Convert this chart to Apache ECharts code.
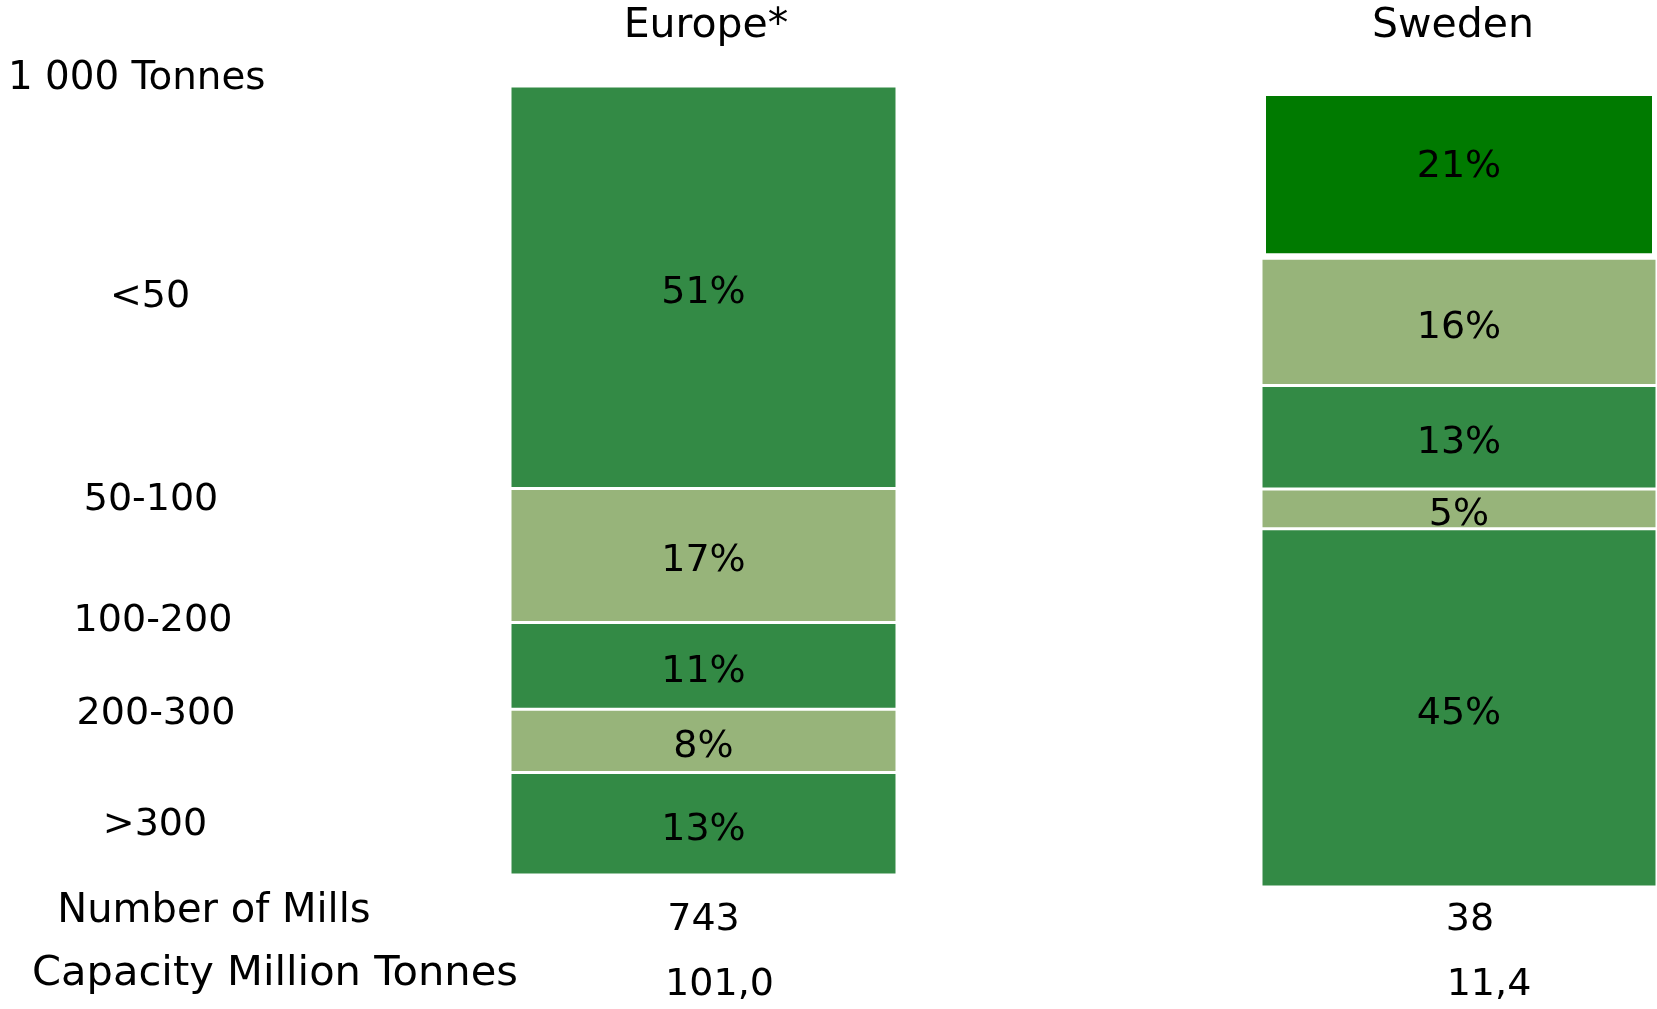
<!DOCTYPE html>
<html><head><meta charset="utf-8">
<script src="https://cdn.jsdelivr.net/npm/echarts@6.0.0/dist/echarts.min.js"></script>
<style>html,body{margin:0;padding:0;background:#fff}#c{width:1657px;height:1009px}</style>
</head><body><div id="c"></div>
<script>
// ---- data ----
const regions = ['Europe*', 'Sweden'];
const sizeClasses = ['<50', '50-100', '100-200', '200-300', '>300'];
const europeShares = [51, 17, 11, 8, 13];
const swedenShares = [21, 16, 13, 5, 45];
const numberOfMills = ['743', '38'];
const capacityMt = ['101,0', '11,4'];
const unitLabel = '1 000 Tonnes';
const rowLabels = ['Number of Mills', 'Capacity Million Tonnes'];

// ---- style ----
const FONT = '"DejaVu Sans", sans-serif';
const DARK = '#338A45', LIGHT = '#97B47A', BRIGHT = '#007A00';
const classColors = [
  [DARK, LIGHT, DARK, LIGHT, DARK],
  [BRIGHT, LIGHT, DARK, LIGHT, DARK]
];
const sharesByRegion = [europeShares, swedenShares];

const grids = [
  { left: 510, width: 387, top: 86, height: 789 },
  { left: 1261, width: 396, top: 91, height: 796 }
];
const topMargins = [39.5, 44.5];
const millsMargins = [26, 14];
const millsPad = [[0,0,0,0],[0,0,0,22]];
const capPad = [[0,0,0,32],[0,0,0,60]];
const titlePad = [[0,0,0,5],[0,12,0,0]];

const xAxes = [], yAxes = [], series = [];
regions.forEach((r, g) => {
  const base = { gridIndex: g, type: 'category', data: [r],
    axisLine: { show: false }, axisTick: { show: false }, splitLine: { show: false } };
  xAxes.push(Object.assign({}, base, { position: 'top',
    axisLabel: { fontSize: 41, lineHeight: 41, color: '#000', fontFamily: FONT, margin: topMargins[g], padding: titlePad[g] } }));
  xAxes.push(Object.assign({}, base, { position: 'bottom',
    axisLabel: { fontSize: 38, lineHeight: 38, color: '#000', fontFamily: FONT, margin: millsMargins[g], padding: millsPad[g],
      formatter: () => numberOfMills[g] } }));
  xAxes.push(Object.assign({}, base, { position: 'bottom', offset: 65,
    axisLabel: { fontSize: 38, lineHeight: 38, color: '#000', fontFamily: FONT, margin: millsMargins[g], padding: capPad[g],
      formatter: () => capacityMt[g] } }));
  yAxes.push({ gridIndex: g, type: 'value', min: 0, max: 100, show: false });
  const shares = sharesByRegion[g];
  for (let k = sizeClasses.length - 1; k >= 0; k--) {
    const isTopSweden = (g === 1 && k === 0);
    series.push({
      type: 'bar', name: sizeClasses[k], stack: 'st' + g,
      xAxisIndex: g * 3, yAxisIndex: g, barWidth: '100%',
      data: [{ value: shares[k], itemStyle: { color: classColors[g][k], borderColor: '#fff',
        borderWidth: isTopSweden ? 5 : 1.5 } }],
      label: { show: true, position: 'inside', formatter: '{c}%', fontSize: 38, color: '#000', fontFamily: FONT,
        offset: [0, isTopSweden ? -7 : 6] },
      emphasis: { disabled: true }
    });
  }
});

const leftLabelPos = [[150, 297], [151, 500], [153, 621], [156, 714], [155, 825]];
const graphics = [
  { type: 'text', x: 8, y: 79, style: { text: unitLabel, fontSize: 38.8, fontFamily: FONT, fill: '#000', align: 'left', verticalAlign: 'middle' } }
];
sizeClasses.forEach((s, i) => graphics.push({ type: 'text', x: leftLabelPos[i][0], y: leftLabelPos[i][1],
  style: { text: s, fontSize: 38, fontFamily: FONT, fill: '#000', align: 'center', verticalAlign: 'middle' } }));
const rowPos = [[214, 912], [275, 974]];
const rowSizes = [40, 41.6];
rowLabels.forEach((s, i) => graphics.push({ type: 'text', x: rowPos[i][0], y: rowPos[i][1],
  style: { text: s, fontSize: rowSizes[i], fontFamily: FONT, fill: '#000', align: 'center', verticalAlign: 'middle' } }));

const chart = echarts.init(document.getElementById('c'), null, { renderer: 'canvas' });
chart.setOption({
  animation: false,
  backgroundColor: '#fff',
  grid: grids,
  xAxis: xAxes,
  yAxis: yAxes,
  series: series,
  graphic: graphics
});
</script></body></html>
